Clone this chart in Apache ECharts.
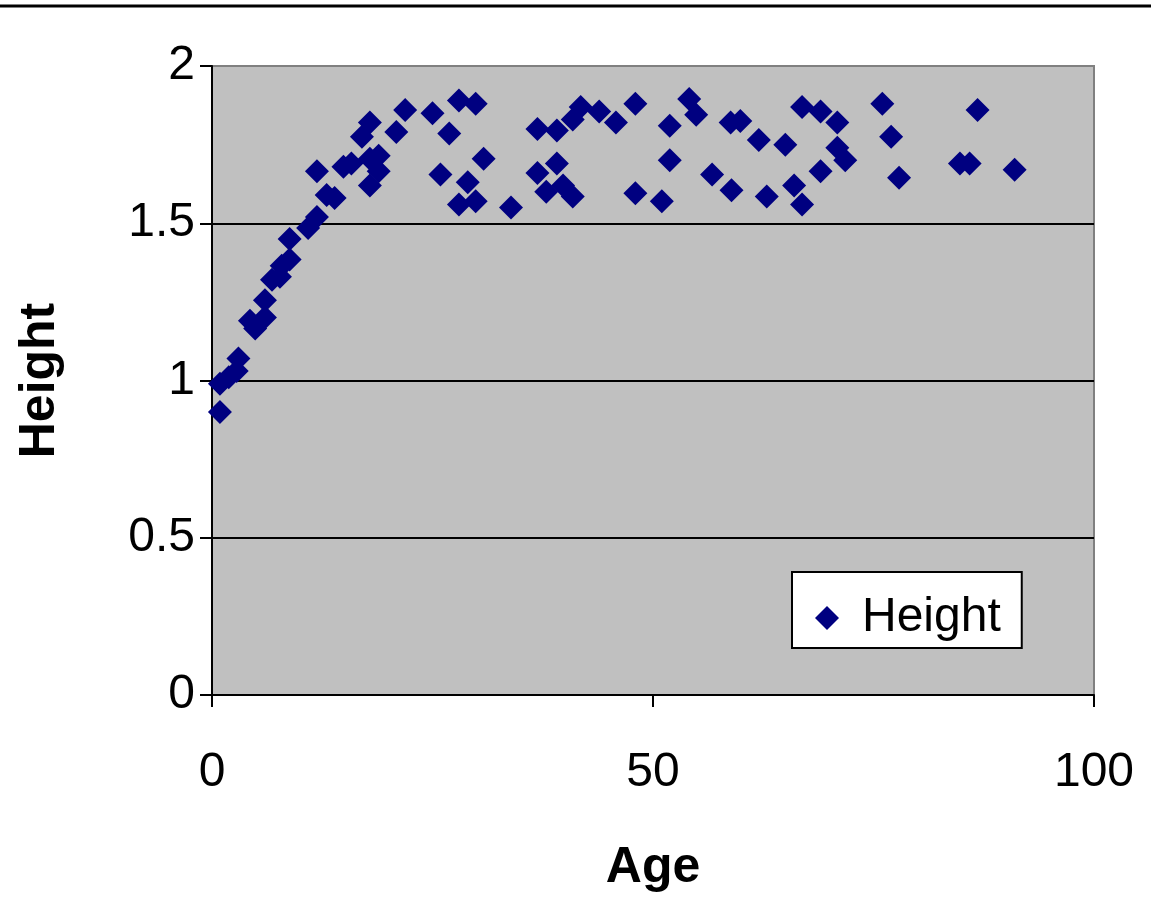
<!DOCTYPE html>
<html>
<head>
<meta charset="utf-8">
<script src="https://cdn.jsdelivr.net/npm/echarts@6/dist/echarts.min.js"></script>
<style>
  html, body { margin: 0; padding: 0; background: #fff; }
  #main { width: 1151px; height: 918px; }
</style>
</head>
<body>
<div id="main"></div>
<script>
// age (x) and height (y)
var ages = [
  0.9, 0.9, 1.9, 3.0, 2.8, 4.3, 4.9, 6.0, 6.0, 6.8,
  7.7, 7.9, 8.8, 8.8, 10.9, 11.9, 13.0, 13.9, 11.9, 14.9,
  15.8, 17.9, 18.9, 18.9, 17.9, 17.0, 17.9, 20.9, 21.9, 25.0,
  28.0, 29.9, 26.9, 25.9, 30.8, 29.0, 28.0, 29.9, 33.9, 36.9,
  39.1, 41.8, 40.9, 43.9, 45.8, 48.0, 39.1, 36.9, 37.9, 39.8,
  40.9, 48.0, 51.0, 54.1, 54.9, 51.9, 51.9, 56.7, 58.9, 58.8,
  59.9, 62.0, 65.0, 62.9, 66.0, 66.9, 66.9, 69.0, 70.9, 70.9,
  71.8, 69.0, 76.0, 77.0, 77.9, 86.8, 84.8, 85.9, 91.0
];
var heights = [
  0.90, 0.99, 1.01, 1.07, 1.03, 1.19, 1.165, 1.20, 1.255, 1.32,
  1.33, 1.365, 1.385, 1.45, 1.485, 1.52, 1.59, 1.58, 1.665, 1.68,
  1.69, 1.62, 1.665, 1.715, 1.705, 1.775, 1.82, 1.79, 1.86, 1.85,
  1.89, 1.88, 1.785, 1.655, 1.705, 1.63, 1.56, 1.57, 1.55, 1.80,
  1.795, 1.87, 1.83, 1.855, 1.82, 1.88, 1.69, 1.66, 1.60, 1.62,
  1.585, 1.595, 1.57, 1.895, 1.845, 1.81, 1.70, 1.655, 1.605, 1.82,
  1.825, 1.765, 1.75, 1.585, 1.62, 1.56, 1.87, 1.855, 1.82, 1.74,
  1.70, 1.665, 1.88, 1.775, 1.645, 1.86, 1.69, 1.69, 1.67
];

var points = ages.map(function (a, i) { return [a, heights[i]]; });

var font = "'Liberation Sans', Arial, sans-serif";
var myChart = echarts.init(document.getElementById('main'));

var option = {
  animation: false,
  backgroundColor: '#fff',
  textStyle: { fontFamily: font, color: '#000' },
  grid: {
    left: 212, right: 57, top: 66, bottom: 223,
    show: true,
    backgroundColor: '#c0c0c0',
    borderColor: '#808080',
    borderWidth: 2
  },
  graphic: [
    {
      type: 'line',
      shape: { x1: 0, y1: 6, x2: 1151, y2: 6 },
      style: { stroke: '#000', lineWidth: 3 }
    }
  ],
  legend: {
    left: 792, top: 572,
    orient: 'vertical',
    backgroundColor: '#fff',
    borderColor: '#000',
    borderWidth: 2,
    padding: [22, 21, 6, 23],
    itemWidth: 24, itemHeight: 24,
    icon: 'diamond',
    textStyle: { fontFamily: font, fontSize: 48, color: '#000', padding: [0, 0, 0, 18] },
    data: ['Height']
  },
  xAxis: {
    type: 'value',
    min: 0, max: 100, interval: 50,
    name: 'Age',
    nameLocation: 'middle',
    nameGap: 148,
    nameTextStyle: { fontFamily: font, fontSize: 50, fontWeight: 'bold', color: '#000' },
    axisLine: { show: true, onZero: false, lineStyle: { color: '#000', width: 2 } },
    axisTick: { show: true, inside: false, length: 12, lineStyle: { color: '#000', width: 2 } },
    axisLabel: { fontFamily: font, fontSize: 48, color: '#000', margin: 54 },
    splitLine: { show: false }
  },
  yAxis: {
    type: 'value',
    min: 0, max: 2, interval: 0.5,
    name: 'Height',
    nameLocation: 'middle',
    nameGap: 147,
    nameRotate: 90,
    nameTextStyle: { fontFamily: font, fontSize: 50, fontWeight: 'bold', color: '#000' },
    axisLine: { show: true, onZero: false, lineStyle: { color: '#000', width: 2 } },
    axisTick: { show: true, inside: false, length: 12, lineStyle: { color: '#000', width: 2 } },
    axisLabel: { fontFamily: font, fontSize: 48, color: '#000', margin: 17 },
    splitLine: {
      show: true,
      lineStyle: { color: ['#000', '#000', '#000', '#000', '#808080'], width: 2 }
    }
  },
  series: [
    {
      name: 'Height',
      type: 'scatter',
      symbol: 'diamond',
      symbolSize: 24,
      itemStyle: { color: '#000080', opacity: 1 },
      data: points
    }
  ]
};

myChart.setOption(option);
</script>
</body>
</html>
